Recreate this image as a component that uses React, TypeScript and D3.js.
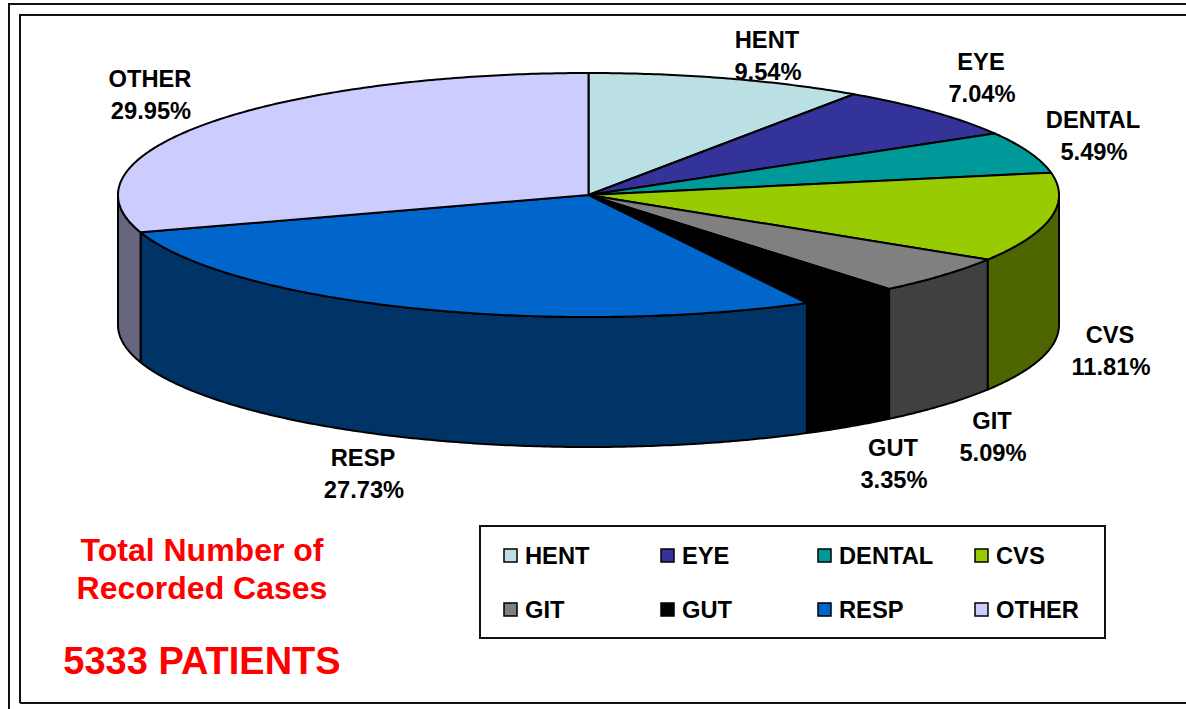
import React, { useEffect, useRef } from 'react';
import * as d3 from 'd3';

// Share of recorded cases per system, in drawing order (clockwise from 12 o'clock)
const categories = ['HENT', 'EYE', 'DENTAL', 'CVS', 'GIT', 'GUT', 'RESP', 'OTHER'];
const percents = [9.54, 7.04, 5.49, 11.81, 5.09, 3.35, 27.73, 29.95];
const topColors = ['#BBE0E3', '#333399', '#009999', '#99CC00', '#808080', '#000000', '#0066CC', '#CCCCFF'];
const sideColors = ['#5E7072', '#1A1A4D', '#004D4D', '#4D6600', '#404040', '#000000', '#003366', '#666680'];
const noteLines = ['Total Number of', 'Recorded Cases'];
const patientsLine = '5333 PATIENTS';

// Label anchors: centre x, baseline of the name
const labelSpots: [number, number][] = [
  [767, 48], [981, 70], [1093, 128], [1110, 343],
  [992, 429], [893, 456], [363, 466], [150, 87],
];

const FONT = '"Liberation Sans", Arial, sans-serif';
const LABEL_SIZE = 23.7;

const App = () => {
  const ref = useRef<SVGSVGElement>(null);

  useEffect(() => {
    const svg = d3.select(ref.current);
    svg.selectAll('*').remove();

    const depth = 130;
    const x = d3.scaleLinear().domain([-1, 1]).range([118, 1059]);
    const y = d3.scaleLinear().domain([-1, 1]).range([73, 317]);

    // Pie angles, flattened onto an ellipse
    const slices = d3.pie<number>().sort(null)(percents);
    const rim = (a: number, dy = 0): [number, number] => [x(Math.sin(a)), y(-Math.cos(a)) + dy];
    const sweep = (a0: number, a1: number) => {
      const n = Math.max(2, Math.ceil((a1 - a0) / 0.01));
      return d3.range(n + 1).map(i => a0 + ((a1 - a0) * i) / n);
    };
    const line = d3.line();

    // Frames
    const frame = svg.append('g').attr('fill', 'none').attr('stroke', '#111').attr('stroke-width', 2);
    frame.append('path').attr('d', line([[9, 709], [9, 4], [1186, 4]]));
    frame.append('path').attr('d', line([[20, 703], [20, 15], [1186, 15]]));
    frame.append('path').attr('d', line([[20, 703], [1186, 703]]));

    // Side wall, front half of the ellipse only
    const front0 = Math.PI / 2;
    const front1 = (Math.PI * 3) / 2;
    slices.forEach((s, i) => {
      const a0 = Math.max(s.startAngle, front0);
      const a1 = Math.min(s.endAngle, front1);
      if (a1 <= a0) return;
      const angles = sweep(a0, a1);
      const pts = [
        ...angles.map(a => rim(a)),
        ...angles.slice().reverse().map(a => rim(a, depth)),
      ];
      svg.append('path')
        .attr('d', line(pts) + 'Z')
        .attr('fill', sideColors[i])
        .attr('stroke', '#000')
        .attr('stroke-width', 2)
        .attr('stroke-linejoin', 'round');
    });

    // Top face
    slices.forEach((s, i) => {
      const pts = [[x(0), y(0)] as [number, number], ...sweep(s.startAngle, s.endAngle).map(a => rim(a))];
      svg.append('path')
        .attr('d', line(pts) + 'Z')
        .attr('fill', topColors[i])
        .attr('stroke', '#000')
        .attr('stroke-width', 2)
        .attr('stroke-linejoin', 'round');
    });

    // Data labels
    const labels = svg.append('g')
      .attr('font-family', FONT)
      .attr('font-weight', 700)
      .attr('font-size', LABEL_SIZE)
      .attr('text-anchor', 'middle')
      .attr('fill', '#000');
    categories.forEach((c, i) => {
      const [lx, ly] = labelSpots[i];
      labels.append('text').attr('x', lx).attr('y', ly).text(c);
      labels.append('text').attr('x', lx + 1).attr('y', ly + 32).text(`${percents[i].toFixed(2)}%`);
    });

    // Legend
    svg.append('rect')
      .attr('x', 480).attr('y', 526)
      .attr('width', 625).attr('height', 112)
      .attr('fill', '#fff').attr('stroke', '#111').attr('stroke-width', 2);
    const colX = d3.scalePoint<number>().domain([0, 1, 2, 3]).range([504, 975]);
    const rowY = d3.scalePoint<number>().domain([0, 1]).range([549, 603]);
    categories.forEach((c, i) => {
      const lx = colX(i % 4) as number;
      const ly = rowY(Math.floor(i / 4)) as number;
      svg.append('rect')
        .attr('x', lx).attr('y', ly)
        .attr('width', 13).attr('height', 13)
        .attr('fill', topColors[i])
        .attr('stroke', '#000').attr('stroke-width', 1.5);
      svg.append('text')
        .attr('x', lx + 21).attr('y', ly + 15)
        .attr('font-family', FONT).attr('font-weight', 700).attr('font-size', LABEL_SIZE)
        .text(c);
    });

    // Red note
    const note = svg.append('g')
      .attr('font-family', FONT)
      .attr('font-weight', 700)
      .attr('text-anchor', 'middle')
      .attr('fill', '#FF0000');
    noteLines.forEach((t, i) => {
      note.append('text').attr('x', 202).attr('y', 561 + i * 38).attr('font-size', 32).text(t);
    });
    note.append('text').attr('x', 202).attr('y', 674).attr('font-size', 38).text(patientsLine);
  }, []);

  return (
    <svg
      ref={ref}
      width={1186}
      height={709}
      style={{ position: 'absolute', left: 0, top: 0, display: 'block', background: '#fff' }}
    />
  );
};

export default App;
